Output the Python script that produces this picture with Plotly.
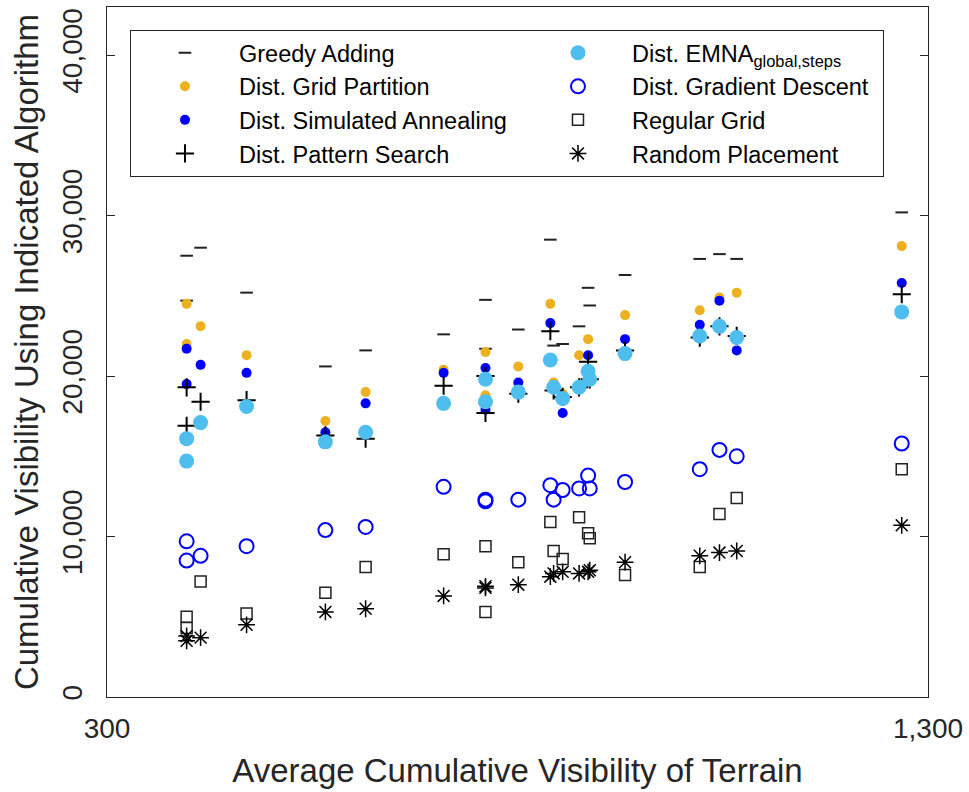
import plotly.graph_objects as go

# Average cumulative visibility of each terrain (x)
terrain_x = [397, 397, 414, 470, 566, 615, 710, 761, 761, 801, 840, 844, 855, 875, 886, 888, 931, 1022, 1046, 1067, 1268]

greedy_adding = [27500, 24700, 28000, 25200, 20600, 21600, 22600, 24750, 21700, 22900, 28500, 21900, 22000, 23100, 25500, 24400, 26300, 27300, 27600, 27300, 30200]
grid_partition = [24500, 22000, 23100, 21300, 17200, 19000, 20400, 21500, 18800, 20600, 24500, 19600, 18900, 21300, 22300, 20300, 23800, 24100, 24900, 25200, 28100]
simulated_annealing = [21700, 19500, 20700, 20200, 16500, 18300, 20200, 20500, 17900, 19600, 23300, 19300, 17700, 19300, 21300, 20000, 22300, 23200, 24700, 21600, 25800]
pattern_search = [19300, 16900, 18400, 18500, 16300, 16100, 19400, 20000, 17700, 18900, 22800, 19100, 18700, 19300, 20900, 19800, 21600, 22400, 23100, 22500, 25100]
emna = [16100, 14700, 17100, 18100, 15900, 16500, 18300, 19800, 18400, 19000, 21000, 19300, 18600, 19300, 20300, 19800, 21400, 22500, 23100, 22400, 24000]
gradient_descent = [9700, 8500, 8800, 9400, 10400, 10600, 13100, 12300, 12200, 12300, 13200, 12300, 12900, 13000, 13800, 13000, 13400, 14200, 15400, 15000, 15800]
regular_grid = [5000, 4300, 7200, 5200, 6500, 8100, 8900, 9400, 5300, 8400, 10900, 9100, 8600, 11200, 10200, 9900, 7600, 8100, 11400, 12400, 14200]
random_placement = [3800, 3500, 3700, 4500, 5300, 5500, 6300, 6900, 6800, 7000, 7500, 7700, 7800, 7700, 7800, 7900, 8400, 8800, 9000, 9100, 10700]

x_ticks = [300, 1300]
x_ticktext = ["300", "1,300"]
y_ticks = [0, 10000, 20000, 30000, 40000]
y_ticktext = ["0", "10,000", "20,000", "30,000", "40,000"]

FONT = "Liberation Sans, Arial, Helvetica, sans-serif"
AX = "#262626"

# name, values, marker, legend rank, legend entry width (column 1 wider than column 2)
series = [
    ("Greedy Adding", greedy_adding, dict(symbol="line-ew", size=9, color="#222", line=dict(color="#222", width=2)), 1, 280),
    ("Dist. Grid Partition", grid_partition, dict(symbol="circle", size=10, color="#EDB120", line=dict(width=0)), 3, 280),
    ("Dist. Simulated Annealing", simulated_annealing, dict(symbol="circle", size=10, color="#0000FF", line=dict(width=0)), 5, 280),
    ("Dist. Pattern Search", pattern_search, dict(symbol="cross-thin", size=13, color="#000", line=dict(color="#000", width=2)), 7, 280),
    ("Dist. EMNA<sub>global,steps</sub>", emna, dict(symbol="circle", size=15, color="#4DBEEE", line=dict(width=0)), 2, 246),
    ("Dist. Gradient Descent", gradient_descent, dict(symbol="circle-open", size=14, color="#0000FF", line=dict(color="#0000FF", width=2)), 4, 246),
    ("Regular Grid", regular_grid, dict(symbol="square-open", size=11, color="#222", line=dict(color="#222", width=1.5)), 6, 246),
    ("Random Placement", random_placement, dict(symbol="asterisk-open", size=14, color="#000", line=dict(color="#000", width=1.5)), 8, 246),
]

fig = go.Figure()
for name, ys, marker, rank, lw in series:
    fig.add_trace(go.Scatter(x=terrain_x, y=ys, mode="markers", name=name, marker=marker,
                             legendrank=rank, legendwidth=lw))

fig.update_layout(
    width=969, height=792,
    margin=dict(l=107, r=38, t=6, b=95),
    paper_bgcolor="white", plot_bgcolor="white",
    font=dict(family=FONT, color="#262626", size=23.5),
    showlegend=True,
    legend=dict(
        orientation="h", itemwidth=98,
        x=0.028, y=0.9667, xanchor="left", yanchor="top",
        bgcolor="white", bordercolor=AX, borderwidth=1,
        font=dict(family=FONT, size=23.5, color="#000"),
        traceorder="normal",
    ),
    xaxis=dict(
        range=[300, 1300], tickvals=x_ticks, ticktext=x_ticktext,
        showline=True, linecolor=AX, linewidth=1.3, mirror="ticks",
        ticks="inside", ticklen=8, tickcolor=AX, showgrid=False, zeroline=False,
        ticklabelstandoff=6,
        tickfont=dict(family=FONT, size=28, color="#262626"),
        title=dict(text="Average Cumulative Visibility of Terrain", font=dict(family=FONT, size=33, color="#262626"), standoff=16),
    ),
    yaxis=dict(
        range=[0, 43000], tickvals=y_ticks, ticktext=y_ticktext, tickangle=-90,
        showline=True, linecolor=AX, linewidth=1.3, mirror="ticks",
        ticks="inside", ticklen=8, tickcolor=AX, showgrid=False, zeroline=False,
        ticklabelstandoff=13,
        tickfont=dict(family=FONT, size=28, color="#262626"),
        title=dict(text="Cumulative Visibility Using Indicated Algorithm", font=dict(family=FONT, size=33, color="#262626"), standoff=8),
    ),
)

fig.write_html("out.html")
